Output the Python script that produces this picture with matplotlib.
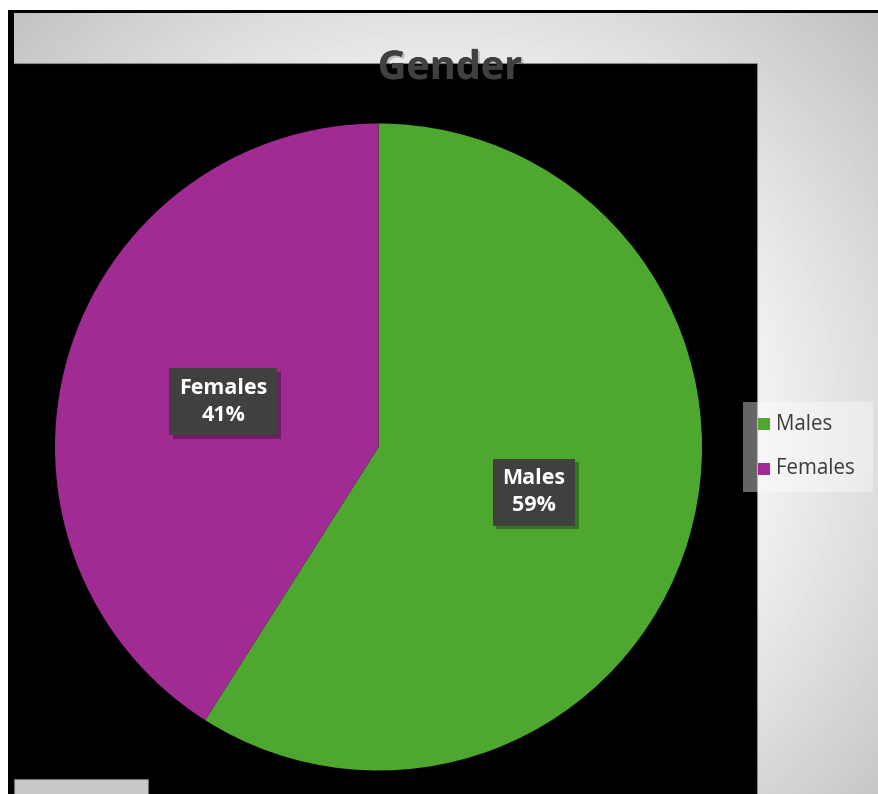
import numpy as np
import matplotlib
matplotlib.use("Agg")
import matplotlib.pyplot as plt
import matplotlib.patheffects as pe
from matplotlib.patches import Rectangle

# Chart data
categories = ["Males", "Females"]
shares = [59, 41]
colors = ["#4EA72E", "#A02B93"]
chart_title = "Gender"

W, H = 879, 794
plt.rcParams["font.family"] = ["Open Sans", "DejaVu Sans"]

fig = plt.figure(figsize=(W / 100, H / 100), dpi=100, facecolor="white")

# Background layer in pixel coordinates
bg = fig.add_axes([0, 0, 1, 1])
bg.set_xlim(0, W)
bg.set_ylim(H, 0)
bg.axis("off")

# Chart frame: black border with a radial grey gradient inside
bg.add_patch(Rectangle((8, 10), W - 8, H - 10, facecolor="black", edgecolor="none", zorder=0))
yy, xx = np.mgrid[13:H:1.0, 14:W:1.0]
r = np.hypot(xx - 440, yy - 430)
shade = np.clip(298 - 0.175 * r, 190, 242) / 255.0
bg.imshow(shade, cmap="gray", vmin=0, vmax=1, extent=(14, W, H, 13),
          interpolation="bilinear", zorder=1, aspect="auto")

# Plot area block (grey edge only on top and right)
bg.add_patch(Rectangle((8, 63), 749, H - 63, facecolor="black", edgecolor="none", zorder=2))
bg.plot([14, 757.5, 757.5], [63, 63, H], color="#8a8a8a", linewidth=0.8, zorder=2.5)
bg.add_patch(Rectangle((14, 779), 134, 20, facecolor="#c9c9c9", edgecolor="#707070",
                       linewidth=0.8, zorder=3))

# Title
bg.text(450, 79, chart_title, ha="center", va="baseline", fontsize=28.5, fontweight="bold",
        color="#404040", zorder=6,
        path_effects=[pe.withSimplePatchShadow(offset=(1.5, -1.5), shadow_rgbFace="black", alpha=0.2),
                      pe.Normal()])

# Legend
bg.add_patch(Rectangle((743, 402), 130, 90, facecolor="white", alpha=0.4, edgecolor="none", zorder=5))
for i, (name, col) in enumerate(zip(categories, colors)):
    yc = 424 + i * 45
    bg.add_patch(Rectangle((758, yc - 6.5), 12, 12, facecolor=col, edgecolor="none", zorder=6))
    bg.text(776, yc, name, ha="left", va="center", fontsize=14.8, color="#3c3c3c", zorder=6)

# Pie
cx, cy, rad = 378.5, 447, 323.5
ax = fig.add_axes([(cx - rad) / W, (H - cy - rad) / H, 2 * rad / W, 2 * rad / H])
wedges, _ = ax.pie(shares, colors=colors, startangle=90, counterclock=False,
                   wedgeprops=dict(linewidth=0))
ax.set_xlim(-1, 1)
ax.set_ylim(-1, 1)
ax.set_aspect("equal")
ax.axis("off")

# Data labels at the middle of each wedge
for w, name, val in zip(wedges, categories, shares):
    mid = np.deg2rad((w.theta1 + w.theta2) / 2)
    t = ax.text(0.5 * np.cos(mid), 0.5 * np.sin(mid), f"{name}\n{val}%",
                ha="center", va="center", fontsize=15.5, fontweight="bold", color="white",
                linespacing=1.35,
                bbox=dict(boxstyle="square,pad=0.45", facecolor="#404040", edgecolor="none"))
    t.get_bbox_patch().set_path_effects(
        [pe.withSimplePatchShadow(offset=(2.5, -2.5), shadow_rgbFace="black", alpha=0.3), pe.Normal()])

fig.savefig("out.png", dpi=100, facecolor="white")
